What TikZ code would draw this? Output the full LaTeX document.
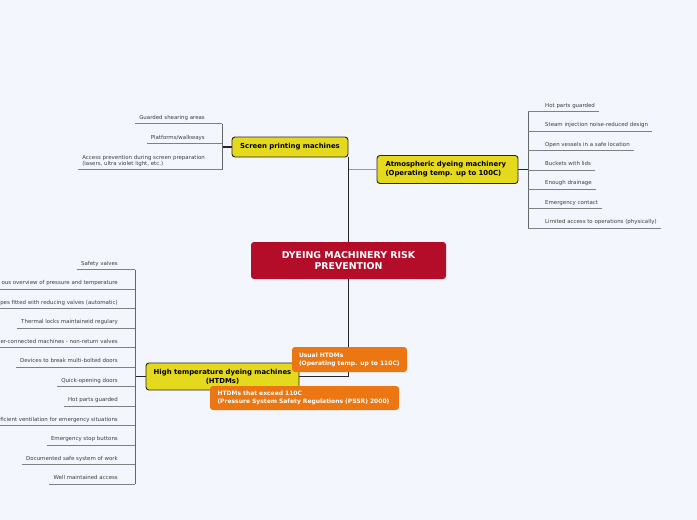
\documentclass[tikz,border=0pt]{standalone}
\usepackage{fontspec}
\setmainfont{DejaVu Sans}
\usepackage{xcolor}
\usepackage{tikz}
\usetikzlibrary{positioning, calc}
\definecolor{paperBlue}{RGB}{243, 246, 253}
\definecolor{rootRed}{RGB}{180, 13, 42}
\definecolor{branchYellow}{RGB}{229, 217, 29}
\definecolor{subOrange}{RGB}{236, 118, 18}
\definecolor{leafGrey}{RGB}{60, 60, 60}
\tikzset{
  rootnode/.style={
    rectangle, rounded corners=3pt,
    fill=rootRed, text=white,
    minimum width=195pt, minimum height=37pt,
    align=center, font=\fontsize{9.4}{10.5}\selectfont\bfseries
  },
  branchnode/.style={
    rectangle, rounded corners=3pt,
    draw=black!85, line width=0.9pt, fill=branchYellow,
    inner sep=0pt, font=\fontsize{6.9}{8.8}\selectfont\bfseries
  },
  subnode/.style={
    rectangle, rounded corners=3pt,
    fill=subOrange, text=white,
    inner sep=0pt, align=left,
    font=\fontsize{6}{8}\selectfont\bfseries
  },
  leaf/.style={
    inner xsep=4pt, inner ysep=0pt, text depth=4pt,
    text=leafGrey, align=left,
    font=\fontsize{5.45}{6.3}\selectfont
  },
  link/.style={draw=black!85, line width=1.4pt},
  thinlink/.style={draw=black!40, line width=0.7pt},
  spine/.style={draw=black!60, line width=0.7pt},
  uline/.style={draw=black!50, line width=0.6pt}
}
\begin{document}
\begin{tikzpicture}[x=1pt, y=-1pt]
  % page (697 x 520 px)
  \fill[paperBlue] (0,0) rectangle (697,520);
  \useasboundingbox (0,0) rectangle (697,520);

  % Centre topic
  \node[rootnode] (root) at (348.5, 260.5)
    {DYEING MACHINERY RISK\\PREVENTION};

  % Main branches
  \node[branchnode, minimum width=116pt, minimum height=20pt] (scr) at (290, 147)
    {Screen printing machines};
  \node[branchnode, minimum width=141pt, minimum height=28pt, text width=124pt,
        align=left] (atm) at (447.5, 169.5)
    {Atmospheric dyeing machinery\\(Operating temp. up to 100C)};
  \node[branchnode, minimum width=153pt, minimum height=27pt, align=center]
    (htdm) at (222.5, 376.5)
    {High temperature dyeing machines\\(HTDMs)};

  % Branch connectors
  \draw[link] (root.north) -- (root.north |- scr.south);
  \draw[thinlink] (root.north |- atm.west) -- (atm.west);
  \draw[link] (root.south) |- (htdm.east);

  % Sub-branches of the HTDM branch
  \node[subnode, minimum width=115pt, minimum height=25pt, text width=101pt]
    (usual) at (349.5, 359.5)
    {Usual HTDMs\\(Operating temp. up to 110C)};
  \node[subnode, minimum width=189pt, minimum height=24pt, text width=174pt]
    (exceed) at (304.5, 398)
    {HTDMs that exceed 110C\\(Pressure System Safety Regulations (PSSR) 2000)};

  % Screen printing leaves (spine x = 222)
  \coordinate (sspine) at (222, 147);
  \node[leaf, anchor=south east] (s1) at (209, 123.5) {Guarded shearing areas};
  \node[leaf, anchor=south east] (s2) at (209, 143.5) {Platforms/walkways};
  \node[leaf, anchor=south east] (s3) at (209, 169.5)
    {Access prevention during screen preparation\\(lasers, ultra violet light, etc.)};
  \draw[link] (scr.west) -- (sspine);
  \draw[spine] (sspine |- s1.south) -- (sspine |- s3.south);
  \foreach \leafname in {s1, s2, s3}
    \draw[uline] (\leafname.south west) -- (sspine |- \leafname.south);

  % Atmospheric dyeing leaves (spine x = 528)
  \coordinate (aspine) at (528, 169.5);
  \node[leaf, anchor=south west] (a1) at (541, 111.5) {Hot parts guarded};
  \node[leaf, anchor=south west] (a2) at (541, 131) {Steam injection noise-reduced design};
  \node[leaf, anchor=south west] (a3) at (541, 150.5) {Open vessels in a safe location};
  \node[leaf, anchor=south west] (a4) at (541, 170) {Buckets with lids};
  \node[leaf, anchor=south west] (a5) at (541, 189) {Enough drainage};
  \node[leaf, anchor=south west] (a6) at (541, 208.5) {Emergency contact};
  \node[leaf, anchor=south west] (a7) at (541, 228) {Limited access to operations (physically)};
  \draw[link] (atm.east) -- (aspine);
  \draw[spine] (aspine |- a1.south) -- (aspine |- a7.south);
  \foreach \leafname in {a1, a2, a3, a4, a5, a6, a7}
    \draw[uline] (aspine |- \leafname.south) -- (\leafname.south east);

  % High temperature leaves (spine x = 135)
  \coordinate (hspine) at (135, 376.5);
  \node[leaf, anchor=south east] (h1) at (122, 269.5) {Safety valves};
  \node[leaf, anchor=south east] (h2) at (122, 289) {ous overview of pressure and temperature};
  \node[leaf, anchor=south east] (h3) at (122, 308.5) {pes fitted with reducing valves (automatic)};
  \node[leaf, anchor=south east] (h4) at (122, 328) {Thermal locks maintaineid regulary};
  \node[leaf, anchor=south east] (h5) at (122, 347.5) {er-connected machines - non-return valves};
  \node[leaf, anchor=south east] (h6) at (122, 367) {Devices to break multi-bolted doors};
  \node[leaf, anchor=south east] (h7) at (122, 386.5) {Quick-opening doors};
  \node[leaf, anchor=south east] (h8) at (122, 406) {Hot parts guarded};
  \node[leaf, anchor=south east] (h9) at (122, 425.5) {ficient ventilation for emergency situations};
  \node[leaf, anchor=south east] (h10) at (122, 445) {Emergency stop buttons};
  \node[leaf, anchor=south east] (h11) at (122, 464.5) {Documented safe system of work};
  \node[leaf, anchor=south east] (h12) at (122, 484) {Well maintained access};
  \draw[link] (htdm.west) -- (hspine);
  \draw[spine] (hspine |- h1.south) -- (hspine |- h12.south);
  \foreach \leafname in {h1, h2, h3, h4, h5, h6, h7, h8, h9, h10, h11, h12}
    \draw[uline] (\leafname.south west) -- (hspine |- \leafname.south);

\end{tikzpicture}
\end{document}
